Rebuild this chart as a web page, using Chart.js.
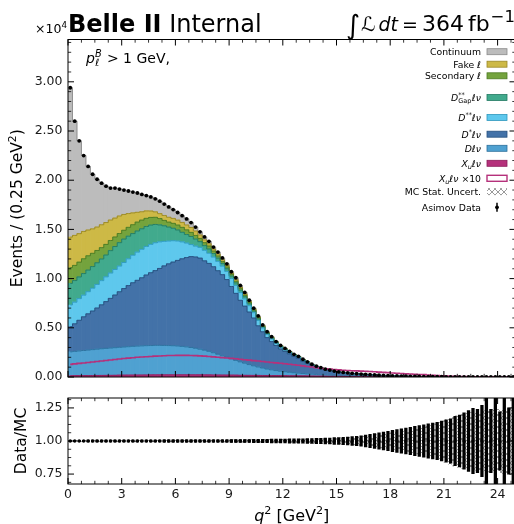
<!DOCTYPE html>
<html><head><meta charset="utf-8">
<script src="https://cdn.jsdelivr.net/npm/chart.js@4.4.1/dist/chart.umd.min.js"></script>
<style>
html,body{margin:0;padding:0;background:#fff;overflow:hidden;width:514px;height:524px;}
#c1{position:absolute;left:0;top:0;}
#c2{position:absolute;left:0;top:385px;}
</style></head><body>
<canvas id="c1" width="518" height="390"></canvas>
<canvas id="c2" width="518" height="139"></canvas>
<script>
// ---- binning: q^2 from 0 to 25 GeV^2 in 0.25 GeV^2 bins ----
const binWidth = 0.25;
const binCenters = Array.from({length: 100}, (_, i) => (i + 0.5) * binWidth);

// ---- tick labels ----
const xTicks = [0, 3, 6, 9, 12, 15, 18, 21, 24];
const yTicksTop = [0, 5000, 10000, 15000, 20000, 25000, 30000];
const yTicksRatio = [0.75, 1.00, 1.25];

// ---- stacked MC components (events per bin) ----
const xulnu = [128,133,138,143, 148,153,158,163, 168,173,178,183, 188,192,196,200, 203,206,209,212, 214,216,218,219, 220,220,220,219, 217,215,212,209, 205,201,197,193, 189,185,180,176, 171,166,162,157, 153,148,144,139, 134,129,124,119, 113,107,101,95, 89,84,80,76, 72,69,66,64, 62,60,58,56, 53,50,47,44, 41,38,35,32, 30,28,26,24, 21,18,15,12, 10,8,6,5, 4,3,2,2, 1,1,1,0, 0,0,0,0];
const dlnu = [2430,2470,2510,2550, 2590,2630,2670,2710, 2740,2770,2800,2830, 2860,2890,2920,2940, 2960,2980,2990,3000, 3000,2990,2980,2960, 2930,2890,2840,2780, 2700,2610,2510,2400, 2260,2110,1960,1810, 1650,1500,1360,1230, 1090,970,860,760, 660,580,510,450, 400,350,310,275, 240,210,185,165, 145,130,115,100, 90,80,70,62, 55,48,42,37, 33,29,26,23, 20,18,16,14, 12,11,10,9, 8,7,6,5, 4,4,3,3, 2,2,2,1, 1,1,1,1, 0,0,0,0];
const dstarlnu = [2560,2800,3120,3420, 3680,3920,4180,4460, 4750,5050,5350,5650, 5940,6210,6460,6690, 6920,7180,7400,7600, 7820,8080,8300,8500, 8700,8900,9080,9230, 9280,9250, 9080,8940,8740,8490, 8240,7900,7360,6820, 6260,5790,5340,4860, 4180,3680,3190,2870, 2550,2260,2070,1870, 1670,1510,1250,1080, 890,740, 653,532,458,385, 322,292,257,221, 194,174,155,133, 111,90,77,65, 51,39,34,29, 24,18,12,10, 9,8,8,7, 7,5,5,3, 3,2,2,2, 2,1,1,1, 1,1,1,1];
const dsslnu = [2200,2200,2200,2200, 2250,2320,2400,2460, 2520,2570,2600,2610, 2650,2720,2800,2860, 2900,2900,2880,2830, 2700,2500,2320,2170, 1970,1720,1470,1230, 1100,1100, 1070,1030,980,950, 870,830,810,800, 780,740,650,540, 540,380,320,270, 215,190,160,135, 108,108,108,80, 65,54, 35,30,25,21, 18,15,13,11, 9,8,7,6, 5,4,4,3, 3,2,2,2, 2,1,1,1, 1,1,0,0, 0,0,0,0, 0,0,0,0, 0,0,0,0, 0,0,0,0];
const gaplnu = [2200,2200,2200,2200, 2200,2200,2200,2200, 2220,2280,2330,2380, 2380,2300,2200,2150, 2080,2030,1960,1860, 1720,1580,1420,1270, 1120,980,870,820, 720,580, 480,430,360,330, 280,270,250,260, 240,220,190,160, 160,110,95,80, 65,55,50,40, 32,32,32,24, 19,16, 8,7,6,5, 5,4,4,3, 3,3,2,2, 2,2,1,1, 1,1,1,1, 0,0,0,0, 0,0,0,0, 0,0,0,0, 0,0,0,0, 0,0,0,0, 0,0,0,0];
const secondary = [1600,1540,1500,1500, 1450,1350,1250,1150, 1080,1030,970,930, 900,900,900,900, 880,830,780,730, 650,550,500,500, 500,500,470,420, 370,330, 300,300,250,220, 190,180,170,170, 160,150,130,110, 110,75,65,55, 45,40,35,28, 22,22,22,17, 13,11, 5,4,4,3, 3,2,2,2, 1,1,1,1, 1,1,1,0, 0,0,0,0, 0,0,0,0, 0,0,0,0, 0,0,0,0, 0,0,0,0, 0,0,0,0, 0,0,0,0];
const fake = [3100,3050,2900,2780, 2620,2480,2380,2330, 2220,2080,1920,1780, 1600,1400,1200,1000, 850,750,650,550, 500,500,500,500, 500,500,500,500, 450,350, 280,230,200,200, 170,150,140,150, 140,130,110,90, 90,65,55,45, 35,30,25,22, 18,18,18,14, 11,9, 5,4,4,3, 3,2,2,2, 1,1,1,1, 1,1,1,1, 1,0,0,0, 0,0,0,0, 0,0,0,0, 0,0,0,0, 0,0,0,0, 0,0,0,0, 0,0,0,0];
const continuum = [15180,11610,9430,7710, 6460,5550,4860,4230, 3700,3250,3050,2740, 2480,2290,2120,1960, 1760,1560,1430,1330, 1260,1160,1050,900, 780,690,620,500, 400,320, 300,250,210,200, 190,170,130,200, 180,160,120,100, 100,70,65,50, 40,35,30,25, 20,20,20,15, 12,10, 10,9,8,7, 7,6,6,5, 5,5,4,4, 4,3,3,3, 3,2,2,2, 2,2,1,1, 1,1,1,1, 1,1,1,1, 1,1,1,1, 1,1,0,1, 1,1,0,0];

// ---- ratio panel uncertainties (relative) ----
const ratioErr = [.006,.006,.006,.006,.007,.007,.007,.007,.007,.007,
 .007,.007,.007,.007,.007,.007,.007,.007,.007,.007,
 .007,.008,.008,.008,.008,.008,.008,.008,.008,.008,
 .008,.008,.009,.009,.009,.009,.010,.010,.010,.011,
 .011,.012,.012,.013,.013,.014,.014,.015,.015,.016,
 .016,.017,.017,.018,.019,.020,.021,.022,.023,.025,
 .026,.028,.030,.033,.036,.040,.045,.050,.056,.062,
 .068,.074,.080,.086,.092,.098,.104,.110,.116,.122,
 .130,.136,.142,.150,.160,.168,.186,.196,.212,.230,
 .246,.240,.270,.900,.240,.900,.220,.900,.250,.900];
const mcStatUnc = [.004,.004,.004,.004,.004,.004,.004,.004,.004,.004,
 .005,.005,.005,.005,.005,.005,.005,.005,.005,.005,
 .005,.005,.005,.005,.005,.005,.005,.005,.005,.005,
 .006,.006,.006,.006,.007,.007,.007,.007,.008,.008,
 .008,.009,.009,.010,.010,.011,.011,.012,.012,.013,
 .013,.014,.014,.015,.016,.017,.018,.019,.020,.021,
 .022,.024,.026,.028,.030,.033,.036,.040,.044,.048,
 .052,.057,.062,.067,.072,.078,.084,.090,.097,.104,
 .112,.120,.130,.145,.160,.175,.190,.200,.210,.215,
 .215,.220,.225,.230,.235,.240,.240,.245,.250,.250];

const COL = {xu:'#b5317b', d:'#4fa1d1', ds:'#4372a8', dss:'#5ec8ed', gap:'#41aa8d', sec:'#74a33d', fake:'#cdb946', cont:'#bcbcbc'};
const EDGE = {xu:'#8a1d5a', d:'#2b6f9c', ds:'#26507f', dss:'#2e98be', gap:'#227a62', sec:'#4d7a22', fake:'#9a8826', cont:'#8a8a8a'};
const layers = [
  {key:'xu', data:xulnu}, {key:'d', data:dlnu}, {key:'ds', data:dstarlnu}, {key:'dss', data:dsslnu},
  {key:'gap', data:gaplnu}, {key:'sec', data:secondary}, {key:'fake', data:fake}, {key:'cont', data:continuum}];
const mcTotal = binCenters.map((_, i) => layers.reduce((s, l) => s + l.data[i], 0));
const asimov = mcTotal.slice();            // Asimov data = MC expectation
const ratio = asimov.map((v, i) => v / mcTotal[i]);

const FAM = '"DejaVu Sans"';
function F(s, it, b){ return (it?'italic ':'') + (b?'bold ':'') + s + 'px ' + FAM; }
function rich(ctx, parts, x, y, size, align){
  const segs = []; let w = 0;
  for (const p of parts){
    if (p.ss){
      const s = size*0.7; ctx.font = F(s, p.it);
      const w1 = ctx.measureText(p.sup).width; ctx.font = F(s, p.subIt);
      const w2 = ctx.measureText(p.sub).width;
      segs.push({ss:true, p, x:w, s}); w += Math.max(w1, w2) + size*0.06;
    } else {
      const s = size*(p.k||1)*((p.sup||p.sub)?0.7:1);
      ctx.font = F(s, p.it, p.b);
      segs.push({p, x:w, s}); w += ctx.measureText(p.t).width + (p.gap||0);
    }
  }
  const x0 = align==='right' ? x-w : align==='center' ? x-w/2 : x;
  ctx.textAlign = 'left'; ctx.textBaseline = 'alphabetic';
  for (const g of segs){
    const p = g.p;
    if (g.ss){
      ctx.font = F(g.s, p.it); ctx.fillText(p.sup, x0+g.x, y - size*0.42);
      ctx.font = F(g.s, p.subIt); ctx.fillText(p.sub, x0+g.x, y + size*0.24);
    } else {
      ctx.font = F(g.s, p.it, p.b);
      const dy = (p.sup ? -size*0.42 : p.sub ? size*0.24 : 0) + (p.dy||0);
      ctx.fillText(p.t, x0+g.x, y+dy);
    }
  }
  return w;
}
function hatchPattern(){
  const c = document.createElement('canvas'); c.width = 6; c.height = 6;
  const g = c.getContext('2d'); g.strokeStyle = '#8f8f8f'; g.lineWidth = 0.9;
  g.beginPath(); g.moveTo(0,6); g.lineTo(6,0); g.moveTo(0,0); g.lineTo(6,6); g.stroke();
  return document.createElement('canvas').getContext('2d').createPattern(c, 'repeat');
}
const HATCH = hatchPattern();

function frameTicks(chart, yMinor, yMajorEvery, yKmin, yKmax){
  const {ctx, chartArea:a} = chart; const xs = chart.scales.xq, ys = chart.scales.y;
  ctx.save(); ctx.strokeStyle = '#000';
  const ln = (x1,y1,x2,y2,w) => { ctx.lineWidth = w; ctx.beginPath(); ctx.moveTo(x1,y1); ctx.lineTo(x2,y2); ctx.stroke(); };
  for (let k = 0; k*0.75 <= 25; k++){
    const major = k % 4 === 0; const L = major ? 6 : 3.2; const px = xs.getPixelForValue(k*0.75);
    ln(px, a.bottom, px, a.bottom-L, major?1:0.8); ln(px, a.top, px, a.top+L, major?1:0.8);
  }
  for (let k = yKmin; k <= yKmax; k++){
    const major = k % yMajorEvery === 0; const L = major ? 6 : 3.2; const py = ys.getPixelForValue(k*yMinor);
    ln(a.left, py, a.left+L, py, major?1:0.8); ln(a.right, py, a.right-L, py, major?1:0.8);
  }
  ctx.lineWidth = 1; ctx.strokeRect(a.left, a.top, a.right-a.left, a.bottom-a.top);
  ctx.restore();
}

const decoTop = {id:'decoTop', afterDraw(chart){
  const ctx = chart.ctx; const a = chart.chartArea;
  frameTicks(chart, 1000, 5, 0, 34);
  ctx.save(); ctx.fillStyle = '#000';
  rich(ctx, [{t:'×10'},{t:'4',sup:1}], 67, 33, 12.5, 'right');
  rich(ctx, [{t:'Belle II', b:1},{t:' Internal'}], 68, 32, 24, 'left');
  // luminosity label, laid out piece by piece with measured widths
  ctx.textAlign = 'left'; ctx.textBaseline = 'alphabetic';
  const lum = [
    {t:'∫', f:F(27), y:34, gap:1},
    {t:'ℒ', f:F(20, true), y:30.5, gap:3},
    {t:'dt', f:F(19, true), y:30.5, gap:4},
    {t:'=', f:F(19), y:30.5, gap:4},
    {t:'364', f:F(22), y:30.5, gap:4},
    {t:'fb', f:F(22), y:30.5, gap:1},
    {t:'−1', f:F(16.5), y:21.5, gap:0}];
  let lx = 346;
  for (const p of lum){ ctx.font = p.f; ctx.fillText(p.t, lx, p.y); lx += ctx.measureText(p.t).width + p.gap; }
  rich(ctx, [{t:'p', it:1},{ss:1, sup:'B', sub:'ℓ', it:1, subIt:1},{t:' > 1 GeV,'}], 86, 63, 14, 'left');
  // y title
  ctx.save(); ctx.translate(16.5, (a.top+a.bottom)/2); ctx.rotate(-Math.PI/2);
  rich(ctx, [{t:'Events / (0.25 GeV'},{t:'2', sup:1},{t:')'}], 0, 15.5*0.36, 15.5, 'center');
  ctx.restore();
  // legend
  const fs = 9.3, tx = 481, hx = 487, hw = 20, hh = 6;
  const rows = [
    {cy:51.7, parts:[{t:'Continuum'}], key:'cont'},
    {cy:64.2, parts:[{t:'Fake '},{t:'ℓ', it:1}], key:'fake'},
    {cy:75.8, parts:[{t:'Secondary '},{t:'ℓ', it:1}], key:'sec'},
    {cy:97.5, parts:[{t:'D', it:1},{ss:1, sup:'**', sub:'Gap'},{t:'ℓν', it:1}], key:'gap'},
    {cy:117.5, parts:[{t:'D', it:1},{t:'**', sup:1},{t:'ℓν', it:1}], key:'dss'},
    {cy:134.2, parts:[{t:'D', it:1},{t:'*', sup:1},{t:'ℓν', it:1}], key:'ds'},
    {cy:148.3, parts:[{t:'Dℓν', it:1}], key:'d'},
    {cy:163.3, parts:[{t:'X', it:1},{t:'u', sub:1, it:1},{t:'ℓν', it:1}], key:'xu'},
    {cy:178.3, parts:[{t:'X', it:1},{t:'u', sub:1, it:1},{t:'ℓν', it:1},{t:' ×10'}], key:'x10'},
    {cy:191.6, parts:[{t:'MC Stat. Uncert.'}], key:'mc'},
    {cy:207.3, parts:[{t:'Asimov Data'}], key:'data'}];
  for (const r of rows){
    ctx.fillStyle = '#000';
    rich(ctx, r.parts, tx, r.cy + fs*0.36, fs, 'right');
    const y0 = r.cy - hh/2;
    if (COL[r.key]){
      ctx.fillStyle = COL[r.key]; ctx.fillRect(hx, y0, hw, hh);
      ctx.strokeStyle = EDGE[r.key]; ctx.lineWidth = 0.8; ctx.strokeRect(hx, y0, hw, hh);
    } else if (r.key === 'x10'){
      ctx.fillStyle = '#fff'; ctx.fillRect(hx, y0, hw, hh);
      ctx.strokeStyle = COL.xu; ctx.lineWidth = 1.4; ctx.strokeRect(hx, y0, hw, hh);
    } else if (r.key === 'mc'){
      ctx.fillStyle = HATCH; ctx.fillRect(hx, y0-0.5, hw, hh+1);
    } else {
      ctx.strokeStyle = '#000'; ctx.lineWidth = 1.5;
      ctx.beginPath(); ctx.moveTo(hx+hw/2, r.cy-4.5); ctx.lineTo(hx+hw/2, r.cy+4.5); ctx.stroke();
      ctx.fillStyle = '#000'; ctx.beginPath(); ctx.arc(hx+hw/2, r.cy, 1.9, 0, Math.PI*2); ctx.fill();
    }
  }
  ctx.restore();
}};

const decoBot = {id:'decoBot', afterDraw(chart){
  const ctx = chart.ctx; const a = chart.chartArea;
  frameTicks(chart, 0.0625, 4, 11, 21);
  ctx.save(); ctx.fillStyle = '#000';
  ctx.save(); ctx.translate(20, (a.top+a.bottom)/2); ctx.rotate(-Math.PI/2);
  rich(ctx, [{t:'Data/MC'}], 0, 15.5*0.36, 15.5, 'center');
  ctx.restore();
  rich(ctx, [{t:'q', it:1},{t:'2', sup:1},{t:' [GeV'},{t:'2', sup:1},{t:']'}], (a.left+a.right)/2, 136, 16, 'center');
  ctx.restore();
}};

// ---- top panel ----
const ds1 = [];
layers.forEach(l => ds1.push({type:'bar', data:l.data, backgroundColor:COL[l.key], borderWidth:0,
  stack:'mc', order:10, barPercentage:1, categoryPercentage:1}));
layers.forEach(l => ds1.push({type:'line', data:l.data, stack:'edge', borderColor:EDGE[l.key], borderWidth:0.9,
  pointRadius:0, fill:false, stepped:'middle', order:6}));
ds1.push({type:'line', data:xulnu.map(v => v*10), stack:'x10', borderColor:COL.xu, borderWidth:1.6,
  pointRadius:0, fill:false, stepped:'middle', order:3});
ds1.push({type:'line', data:asimov, stack:'asimov', showLine:false, pointRadius:1.9,
  pointBackgroundColor:'#000', pointBorderWidth:0, order:1});

const tickFont = {family:'DejaVu Sans', size:12.5};
const setTicks = vals => (s => { s.ticks = vals.map(v => ({value:v})); });
new Chart(document.getElementById('c1'), {
  type:'bar',
  data:{labels: binCenters.map(String), datasets: ds1},
  options:{responsive:false, animation:false, events:[],
    layout:{padding:{top:39.5, bottom:13, left:0, right:2.5}, autoPadding:false},
    plugins:{legend:{display:false}, tooltip:{enabled:false}},
    scales:{
      x:{type:'category', stacked:true, display:false, offset:true},
      xq:{type:'linear', axis:'x', position:'bottom', min:0, max:25, offset:false, display:false},
      y:{type:'linear', stacked:true, min:0, max:34300, afterFit(s){ s.width = 68; },
        afterBuildTicks: setTicks(yTicksTop),
        grid:{display:false, drawTicks:false}, border:{display:false},
        ticks:{padding:5.5, font:tickFont, color:'#1a1a1a', callback:v => (v/1e4).toFixed(2)}}
    }},
  plugins:[decoTop]
});

// ---- ratio panel ----
new Chart(document.getElementById('c2'), {
  type:'bar',
  data:{labels: binCenters.map(String), datasets:[
    {type:'bar', data:mcStatUnc.map(u => [1-u, 1+u]), backgroundColor:HATCH, borderWidth:0, grouped:false,
      barPercentage:1, categoryPercentage:1, order:10},
    {type:'bar', data:ratioErr.map(e => [1-e, 1+e]), backgroundColor:'#000', borderWidth:0, grouped:false,
      barThickness:2.6, order:5},
    {type:'line', data:ratio, showLine:false, pointRadius:1.7, pointBackgroundColor:'#000', pointBorderWidth:0, order:1}
  ]},
  options:{responsive:false, animation:false, events:[],
    layout:{padding:{top:13, bottom:0, left:0, right:2.5}, autoPadding:false},
    plugins:{legend:{display:false}, tooltip:{enabled:false}},
    scales:{
      x:{type:'category', display:false, offset:true},
      xq:{type:'linear', axis:'x', position:'bottom', min:0, max:25, offset:false, afterFit(s){ s.height = 40; },
        afterBuildTicks: setTicks(xTicks),
        grid:{display:false, drawTicks:false}, border:{display:false},
        ticks:{autoSkip:false, maxRotation:0, padding:3, font:tickFont, color:'#1a1a1a'}},
      y:{type:'linear', min:0.675, max:1.325, afterFit(s){ s.width = 68; },
        afterBuildTicks: setTicks(yTicksRatio),
        grid:{display:false, drawTicks:false}, border:{display:false},
        ticks:{padding:5.5, font:tickFont, color:'#1a1a1a', callback:v => v.toFixed(2)}}
    }},
  plugins:[decoBot]
});
</script></body></html>
